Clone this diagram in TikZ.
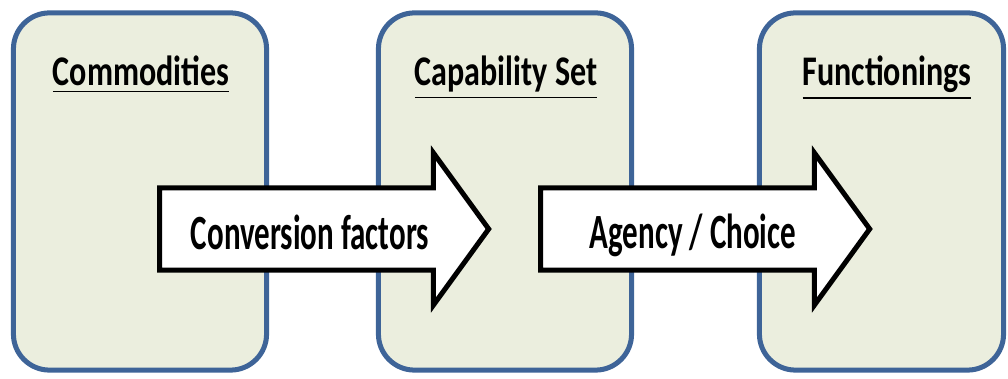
\documentclass[tikz,border=0pt]{standalone}
\usepackage{graphicx}
\usepackage{fontspec}
\setmainfont{Carlito}
\usetikzlibrary{shapes.arrows}
\definecolor{stagefill}{RGB}{235,238,222}
\definecolor{stageline}{RGB}{62,100,152}
\tikzset{
stage/.style={rectangle,rounded corners=0.36cm,draw=stageline,fill=stagefill,line width=0.05cm,minimum height=3.57cm,inner sep=0pt},
stagetitle/.style={anchor=base,inner sep=0pt,font=\bfseries\fontsize{12}{14}\selectfont},
bigarrow/.style={single arrow,draw=black,fill=white,line width=0.05cm,anchor=tail,inner xsep=0pt,inner ysep=0.385cm,single arrow head extend=0.35cm,single arrow tip angle=108,minimum height=3.29cm},
arrowtext/.style={anchor=base,inner sep=0pt,font=\bfseries\fontsize{14}{16}\selectfont}
}
\begin{document}
\begin{tikzpicture}[x=0.01cm,y=-0.01cm]

\useasboundingbox (0,0) rectangle (1008,379);

\draw(140,191.5) node[stage,minimum width=2.53cm](comm){};

\draw(505,191.5) node[stage,minimum width=2.53cm](capset){};

\draw(881.5,191.5) node[stage,minimum width=2.44cm](func){};

\draw(141,86) node[stagetitle](commtitle){\scalebox{0.76}[1]{\underline{Commodities}}};

\draw(506,86) node[stagetitle](captitle){\scalebox{0.76}[1]{\underline{Capability Set}}};

\draw(887,86) node[stagetitle](functitle){\scalebox{0.76}[1]{\underline{Functionings}}};

\draw(157,229) node[bigarrow](conv){};

\draw(538,229) node[bigarrow](agency){};

\draw(310,250) node[arrowtext](convtext){\scalebox{0.63}[1]{Conversion factors}};

\draw(693,249) node[arrowtext](agencytext){\scalebox{0.63}[1]{Agency / Choice}};

\end{tikzpicture}
\end{document}
